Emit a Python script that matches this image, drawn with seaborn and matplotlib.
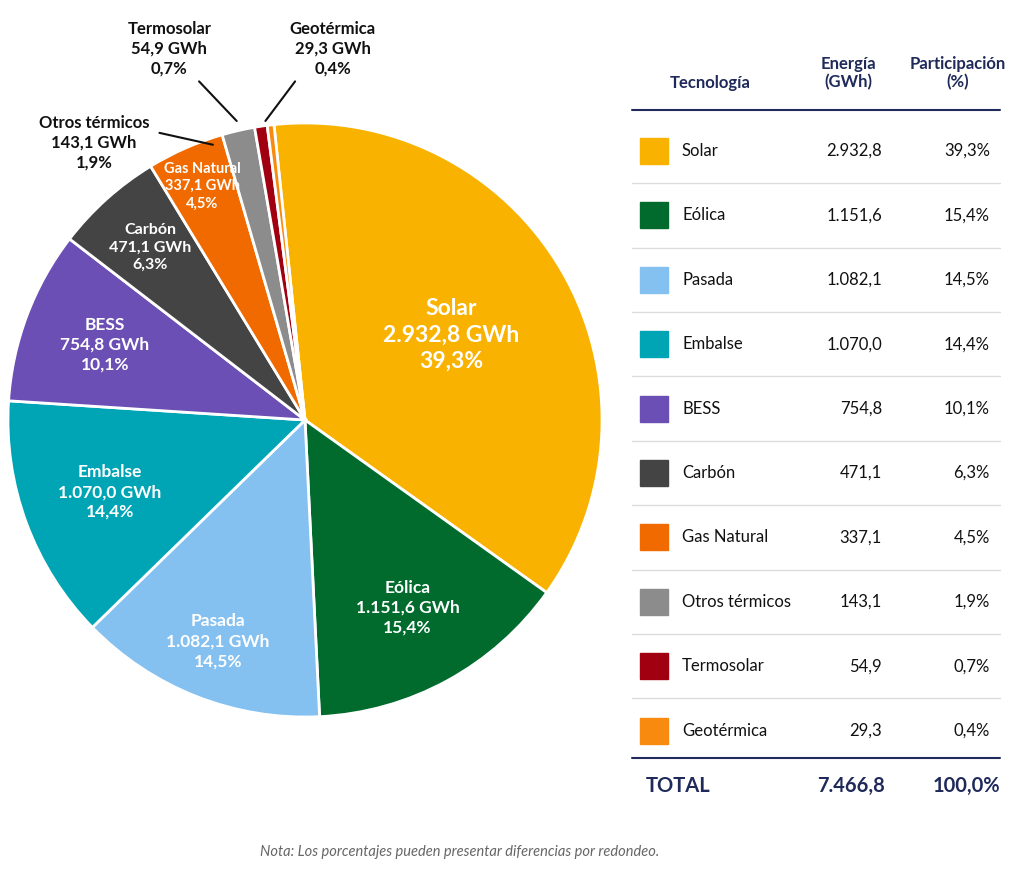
import matplotlib
matplotlib.use("Agg")
import matplotlib.pyplot as plt
import seaborn as sns
import numpy as np

sns.set_theme(style="white")
plt.rcParams['font.family'] = ['Lato', 'DejaVu Sans']

techs = ["Solar", "Eólica", "Pasada", "Embalse", "BESS", "Carbón", "Gas Natural", "Otros térmicos", "Termosolar", "Geotérmica"]
energy = [2932.8, 1151.6, 1082.1, 1070.0, 754.8, 471.1, 337.1, 143.1, 54.9, 29.3]
energy_lbl = ["2.932,8", "1.151,6", "1.082,1", "1.070,0", "754,8", "471,1", "337,1", "143,1", "54,9", "29,3"]
share_lbl = ["39,3%", "15,4%", "14,5%", "14,4%", "10,1%", "6,3%", "4,5%", "1,9%", "0,7%", "0,4%"]
total_energy = "7.466,8"
total_share = "100,0%"
colors = ["#F9B200", "#006B2D", "#85C1F0", "#00A5B5", "#6B4FB5", "#444444", "#F06A00", "#8C8C8C", "#A00010", "#F98A10"]

W, H = 1024, 885
fig = plt.figure(figsize=(W/100, H/100), dpi=100)
fig.patch.set_facecolor("white")
navy = "#1F2A5A"

ax = fig.add_axes([5/W, (H-720)/H, 600/W, 600/H])
wedges, _ = ax.pie(energy, colors=colors, startangle=96, counterclock=False,
                   wedgeprops=dict(edgecolor="white", linewidth=2))
ax.set_xlim(-1.01, 1.01); ax.set_ylim(-1.01, 1.01); ax.set_aspect("equal")

radii = [0.57, 0.72, 0.80, 0.70, 0.72, 0.78, 0.86]
sizes = [16.5, 12.5, 12.5, 12.5, 12.5, 11.5, 10.5]
for i, r in enumerate(radii):
    w = wedges[i]
    a = np.deg2rad((w.theta1 + w.theta2) / 2)
    ax.text(r*np.cos(a), r*np.sin(a), f"{techs[i]}\n{energy_lbl[i]} GWh\n{share_lbl[i]}",
            ha="center", va="center", color="white", fontsize=sizes[i],
            fontweight="bold", linespacing=1.3)

def px(x, y):
    return ((x-305)/300, (420-y)/300)

outs = {7: (92, 140), 8: (168, 45), 9: (333, 45)}
anchors = {7: (158, 130, 212, 142), 8: (198, 78, 236, 118), 9: (295, 78, 265, 118)}
for i, (x, y) in outs.items():
    ax.text(*px(x, y), f"{techs[i]}\n{energy_lbl[i]} GWh\n{share_lbl[i]}", ha="center", va="center",
            color="#111111", fontsize=12, fontweight="bold", linespacing=1.3)
    x1, y1, x2, y2 = anchors[i]
    p1, p2 = px(x1, y1), px(x2, y2)
    ax.plot([p1[0], p2[0]], [p1[1], p2[1]], color="#111111", lw=1.5, clip_on=False)

def fx(x): return x/W
def fy(y): return (H-y)/H

fig.text(fx(710), fy(83), "Tecnología", ha="center", va="center", color=navy, fontsize=12, fontweight="bold")
fig.text(fx(848), fy(73), "Energía\n(GWh)", ha="center", va="center", color=navy, fontsize=12, fontweight="bold")
fig.text(fx(958), fy(73), "Participación\n(%)", ha="center", va="center", color=navy, fontsize=12, fontweight="bold")
fig.add_artist(plt.Line2D([fx(632), fx(1000)], [fy(110), fy(110)], color=navy, lw=1.5))

row0, step = 151, 64.4
for i in range(len(techs)):
    y = row0 + i*step
    fig.add_artist(plt.Rectangle((fx(640), fy(y+13)), 28/W, 26/H, color=colors[i]))
    fig.text(fx(682), fy(y), techs[i], ha="left", va="center", color="#111111", fontsize=12)
    fig.text(fx(882), fy(y), energy_lbl[i], ha="right", va="center", color="#111111", fontsize=12)
    fig.text(fx(990), fy(y), share_lbl[i], ha="right", va="center", color="#111111", fontsize=12)
    if i < len(techs)-1:
        yl = y + step/2
        fig.add_artist(plt.Line2D([fx(632), fx(1000)], [fy(yl), fy(yl)], color="#DDDDDD", lw=1))
fig.add_artist(plt.Line2D([fx(632), fx(1000)], [fy(758), fy(758)], color=navy, lw=1.5))
fig.text(fx(646), fy(786), "TOTAL", ha="left", va="center", color=navy, fontsize=14.5, fontweight="bold")
fig.text(fx(885), fy(786), total_energy, ha="right", va="center", color=navy, fontsize=14.5, fontweight="bold")
fig.text(fx(1000), fy(786), total_share, ha="right", va="center", color=navy, fontsize=14.5, fontweight="bold")

fig.text(fx(460), fy(852), "Nota: Los porcentajes pueden presentar diferencias por redondeo.",
         ha="center", va="center", color="#666666", fontsize=10.5, style="italic")

fig.savefig("out.png", dpi=100, facecolor="white")
